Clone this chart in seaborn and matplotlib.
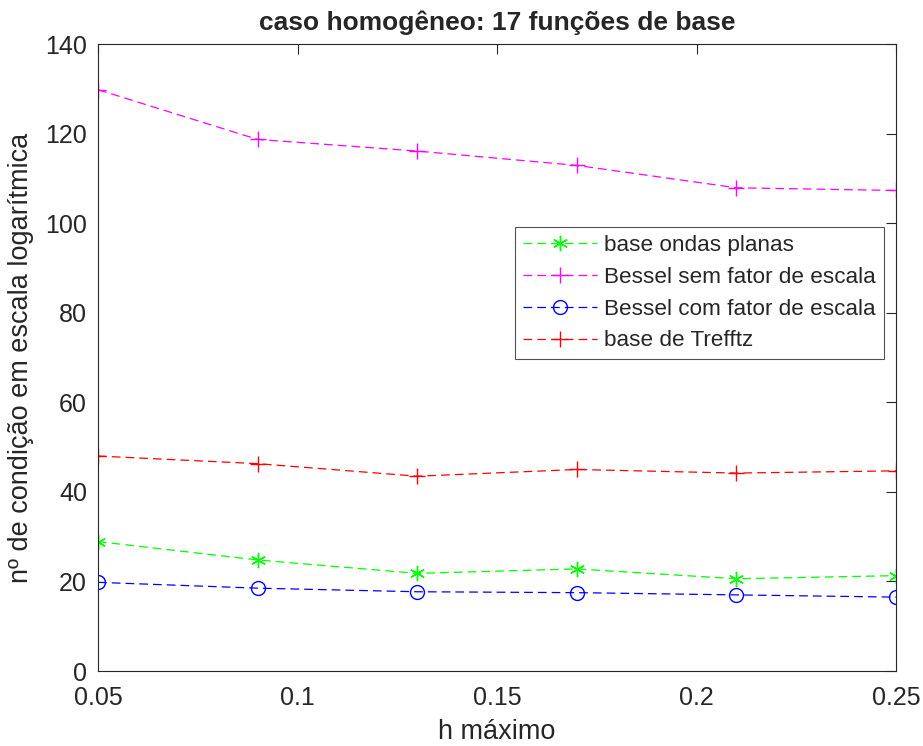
import matplotlib
matplotlib.use("Agg")
import matplotlib.pyplot as plt
import seaborn as sns
import pandas as pd

h_max = [0.05, 0.09, 0.13, 0.17, 0.21, 0.25]
ondas_planas = [28.9, 24.8, 21.8, 22.8, 20.6, 21.3]
bessel_sem = [129.8, 118.7, 116.1, 112.9, 107.9, 107.3]
bessel_com = [19.8, 18.5, 17.7, 17.5, 17.0, 16.5]
trefftz = [48.0, 46.3, 43.5, 45.0, 44.2, 44.7]

series_names = ["base ondas planas", "Bessel sem fator de escala",
                "Bessel com fator de escala", "base de Trefftz"]
series_values = [ondas_planas, bessel_sem, bessel_com, trefftz]

x_ticks = [0.05, 0.1, 0.15, 0.2, 0.25]
x_tick_labels = ["0.05", "0.1", "0.15", "0.2", "0.25"]
y_ticks = [0, 20, 40, 60, 80, 100, 120, 140]

rows = []
for name, vals in zip(series_names, series_values):
    for x, v in zip(h_max, vals):
        rows.append({"h": x, "valor": v, "serie": name})
df = pd.DataFrame(rows)

sns.set_style("white")
plt.rcParams['font.family'] = ['Liberation Sans', 'DejaVu Sans']

fig = plt.figure(figsize=(9.23, 7.46), dpi=100)
ax = fig.add_axes([0.1062, 0.1005, 0.8646, 0.8405])

colors = ["#00ff00", "#ff00ff", "#0000ff", "#ff0000"]
markers = [(6, 2, 0), "+", "o", "+"]
sizes = [11, 12, 10, 12]
for name, c, m, ms in zip(series_names, colors, markers, sizes):
    sub = df[df["serie"] == name]
    sns.lineplot(data=sub, x="h", y="valor", ax=ax, color=c, marker=m,
                 linestyle=(0, (7, 4)), linewidth=0.9, markersize=ms,
                 markerfacecolor="none", markeredgecolor=c, markeredgewidth=1.0,
                 label=name, sort=False)

ax.set_xlim(0.05, 0.25)
ax.set_ylim(0, 140)
ax.set_xticks(x_ticks)
ax.set_xticklabels(x_tick_labels)
ax.set_yticks(y_ticks)
ax.tick_params(direction="in", length=7, width=0.8, labelsize=18, colors="#262626",
               top=True, right=True, labelcolor="#262626")
ax.tick_params(axis="x", pad=11)
ax.tick_params(axis="y", pad=8)
for s in ax.spines.values():
    s.set_color("#262626")
    s.set_linewidth(0.8)

ax.set_xlabel("h máximo", fontsize=19.5, color="#262626", labelpad=6)
ax.set_ylabel("nº de condição em escala logarítmica", fontsize=19.5, color="#262626",
              labelpad=8)
ax.set_title("caso homogêneo: 17 funções de base", fontsize=19, fontweight="bold", pad=10)

leg = ax.legend(loc="upper left", bbox_to_anchor=(0.5226, 0.708), fontsize=16.2,
                frameon=True, fancybox=False, edgecolor="#262626",
                handlelength=3.3, handletextpad=0.3, borderpad=0.35,
                labelspacing=0.48, borderaxespad=0)
leg.get_frame().set_linewidth(0.8)

fig.savefig("out.png", dpi=100)
